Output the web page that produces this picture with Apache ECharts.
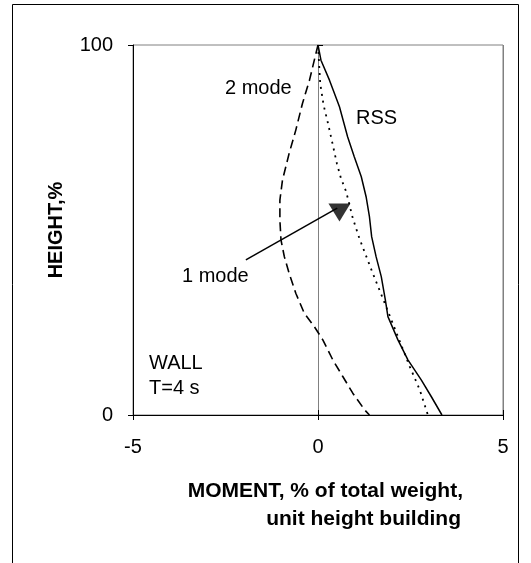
<!DOCTYPE html>
<html>
<head>
<meta charset="utf-8">
<script src="https://cdn.jsdelivr.net/npm/echarts@6/dist/echarts.min.js"></script>
<style>
  html, body { margin: 0; padding: 0; background: #fff; }
  #chart { width: 531px; height: 563px; }
</style>
</head>
<body>
<div id="chart"></div>
<script>
// Bending moment envelopes along building height (wall, T = 4 s)
const xTicks = [-5, 0, 5];
const yTicks = [0, 100];

// RSS combination (solid)
const rssMoment = [0, 0.08, 0.31, 0.58, 0.80, 0.98, 1.17, 1.30, 1.39, 1.45, 1.57, 1.71, 1.82, 1.89, 2.16, 2.43, 2.79, 3.06, 3.35];
const rssHeight = [100, 95.9, 90.5, 83.3, 75.2, 69.8, 64.4, 59.0, 53.6, 48.2, 42.8, 37.4, 31.1, 26.6, 20.3, 14.9, 9.5, 5.0, 0];

// First mode (dotted)
const mode1Moment = [0, 0.06, 0.15, 0.28, 0.40, 0.51, 0.62, 0.76, 0.94, 1.12, 1.48, 1.84, 2.16, 2.48, 2.75, 2.97];
const mode1Height = [100, 89.6, 83.8, 78.4, 73.0, 68.0, 64.0, 60.4, 53.2, 47.7, 38.3, 29.3, 21.2, 13.1, 6.8, 0];

// Second mode (dashed)
const mode2Moment = [0, -0.10, -0.23, -0.42, -0.60, -0.78, -0.96, -1.03, -1.03, -1.00, -0.91, -0.78, -0.60, -0.37, -0.10, 0.13, 0.40, 0.67, 0.94, 1.26, 1.39];
const mode2Height = [100, 95.9, 90.5, 84.2, 77.0, 70.7, 63.5, 58.1, 52.7, 47.3, 42.8, 38.3, 32.9, 27.5, 23.9, 20.3, 14.9, 10.4, 5.9, 1.4, 0];

// Pointer from the "1 mode" label to its curve
const pointerLine = [[-1.95, 41.9], [0.52, 55.9]];
const pointerHead = [[0.58, 54.7]];

const FONT = '"Liberation Sans", Arial, sans-serif';

function pairs(xs, ys) { return xs.map((x, i) => [x, ys[i]]); }

const chart = echarts.init(document.getElementById('chart'), null, { renderer: 'canvas' });

const axisText = { color: '#000', fontFamily: FONT, fontSize: 20 };

function label(text, x, y, font, align) {
  return {
    type: 'text', x: x, y: y, silent: true,
    style: { text: text, font: font, fill: '#000', align: align || 'left', verticalAlign: 'top' }
  };
}

chart.setOption({
  animation: false,
  backgroundColor: '#fff',
  grid: {
    left: 133, right: 28, top: 45, bottom: 148,
    show: true, borderColor: '#808080', borderWidth: 1, backgroundColor: 'transparent'
  },
  xAxis: [
    {
      type: 'value', min: xTicks[0], max: xTicks[xTicks.length - 1], interval: 5,
      axisLine: { show: true, onZero: false, lineStyle: { color: '#000', width: 1 } },
      axisTick: { show: true, length: 5, lineStyle: { color: '#000' } },
      axisLabel: Object.assign({ margin: 22 }, axisText),
      splitLine: { show: true, lineStyle: { color: '#808080', width: 1 } }
    },
    {
      type: 'value', min: xTicks[0], max: xTicks[xTicks.length - 1], interval: 5,
      position: 'bottom',
      axisLine: { show: false },
      axisTick: { show: true, inside: true, length: 5, lineStyle: { color: '#000' } },
      axisLabel: { show: false },
      splitLine: { show: false }
    }
  ],
  yAxis: [
    {
      type: 'value', min: yTicks[0], max: yTicks[yTicks.length - 1], interval: 100,
      name: 'HEIGHT,%', nameLocation: 'middle', nameGap: 67,
      nameTextStyle: { color: '#000', fontFamily: FONT, fontSize: 20, fontWeight: 'bold' },
      axisLine: { show: true, onZero: false, lineStyle: { color: '#000', width: 1 } },
      axisTick: { show: true, length: 5, lineStyle: { color: '#000' } },
      axisLabel: Object.assign({ margin: 20 }, axisText),
      splitLine: { show: false }
    },
    {
      type: 'value', min: yTicks[0], max: yTicks[yTicks.length - 1], interval: 100,
      position: 'left',
      axisLine: { show: false },
      axisTick: { show: true, inside: true, length: 5, lineStyle: { color: '#000' } },
      axisLabel: { show: false },
      splitLine: { show: false }
    }
  ],
  series: [
    {
      name: 'RSS', type: 'line', data: pairs(rssMoment, rssHeight),
      showSymbol: false, smooth: false, silent: true,
      lineStyle: { color: '#000', width: 1.5, type: 'solid' }
    },
    {
      name: '1 mode', type: 'line', data: pairs(mode1Moment, mode1Height),
      showSymbol: false, smooth: false, silent: true,
      lineStyle: { color: '#000', width: 1.8, type: [2, 5] }
    },
    {
      name: '2 mode', type: 'line', data: pairs(mode2Moment, mode2Height),
      showSymbol: false, smooth: false, silent: true,
      lineStyle: { color: '#000', width: 1.6, type: [9, 5] }
    },
    {
      name: 'pointer', type: 'line', data: pointerLine,
      showSymbol: false, silent: true,
      lineStyle: { color: '#000', width: 1.5 }
    },
    {
      name: 'pointer head', type: 'scatter', data: pointerHead,
      symbol: 'triangle', symbolRotate: 180, symbolSize: [22, 18], silent: true,
      itemStyle: { color: '#000' }
    }
  ],
  graphic: [
    {
      type: 'rect', silent: true,
      shape: { x: 12.5, y: 4.5, width: 506, height: 640 },
      style: { fill: 'none', stroke: '#000', lineWidth: 1 }
    },
    label('2 mode', 225, 78, '20px ' + FONT),
    label('RSS', 356, 108, '20px ' + FONT),
    label('1 mode', 182, 266, '20px ' + FONT),
    label('WALL', 149, 353, '20px ' + FONT),
    label('T=4 s', 149, 378, '20px ' + FONT),
    label('MOMENT, % of total weight,', 463, 481, 'bold 21px ' + FONT, 'right'),
    label('unit height building', 461, 509, 'bold 21px ' + FONT, 'right')
  ]
});
</script>
</body>
</html>
